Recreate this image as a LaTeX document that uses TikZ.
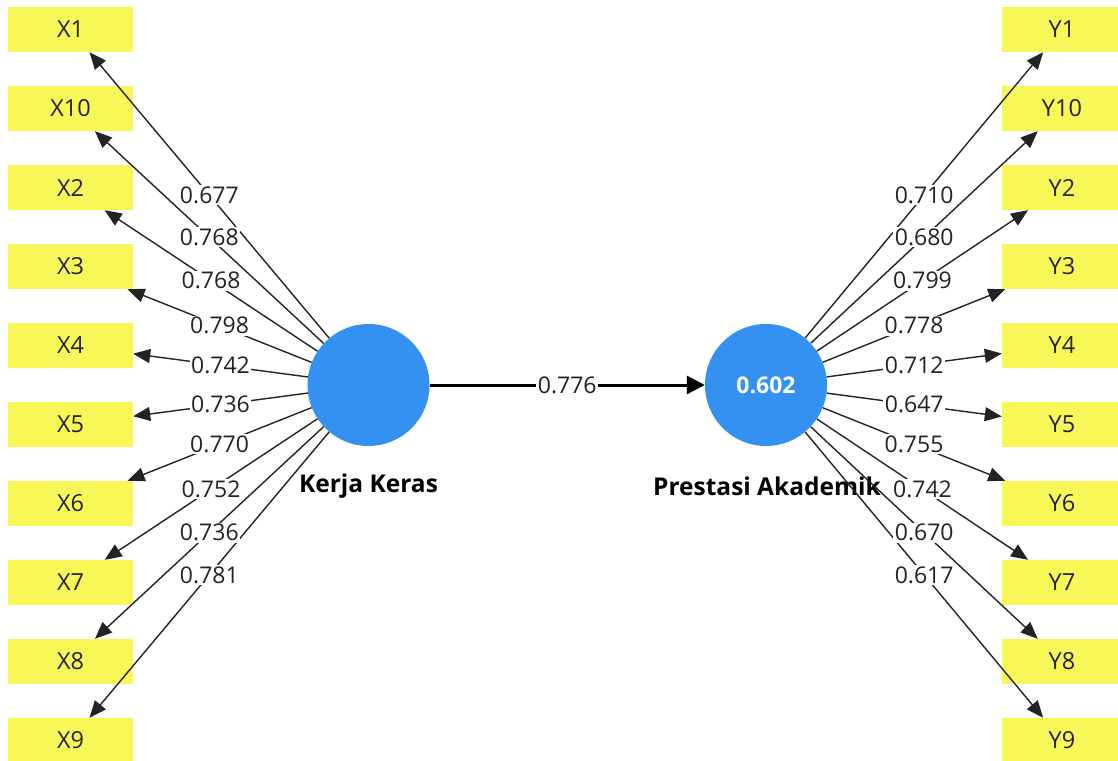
\documentclass[tikz,border=0pt]{standalone}
\usepackage{fontspec}
\setmainfont{Open Sans}
\usetikzlibrary{arrows.meta}
\definecolor{lvblue}{RGB}{52,145,242}
\definecolor{mvyellow}{RGB}{249,246,88}
\definecolor{ink}{RGB}{35,35,35}
\tikzset{
  indicator/.style={fill=mvyellow, minimum height=45pt, inner sep=0pt, text=ink, font=\fontsize{23.5}{25}\selectfont},
  latent/.style={circle, fill=lvblue, minimum size=122pt, inner sep=0pt},
  lvname/.style={font=\fontsize{24.5}{26}\selectfont\bfseries, text=black},
  loading/.style={draw=ink, line width=1.4pt, -{Triangle[length=17pt,width=14pt]}},
  inner path/.style={draw=black, line width=3pt, -{Triangle[length=18pt,width=18pt]}},
  coef/.style={fill=white, inner sep=1.5pt, text=ink, font=\fontsize{23}{25}\selectfont}
}
\def\xload{x1/0.677, x10/0.768, x2/0.768, x3/0.798, x4/0.742, x5/0.736, x6/0.770, x7/0.752, x8/0.736, x9/0.781}
\def\yload{y1/0.710, y10/0.680, y2/0.799, y3/0.778, y4/0.712, y5/0.647, y6/0.755, y7/0.742, y8/0.670, y9/0.617}
\begin{document}
\begin{tikzpicture}[x=1pt,y=-1pt]
\useasboundingbox (0,0) rectangle (1118,760);

\node[latent] (kk) at (368.5,385) {};
\node[latent, text=white, font=\fontsize{23}{25}\selectfont\bfseries] (pa) at (766,385) {0.602};
\node[lvname] (kklabel) at (368.5,486) {Kerja Keras};
\node[lvname] (palabel) at (767,486) {Prestasi Akademik};

\foreach \n/\t [count=\k from 0] in {x1/X1, x10/X10, x2/X2, x3/X3, x4/X4, x5/X5, x6/X6, x7/X7, x8/X8, x9/X9}
\node[indicator, minimum width=125pt] (\n) at (70.5,29.5+79*\k) {\t};
\foreach \n/\t [count=\k from 0] in {y1/Y1, y10/Y10, y2/Y2, y3/Y3, y4/Y4, y5/Y5, y6/Y6, y7/Y7, y8/Y8, y9/Y9}
\node[indicator, minimum width=120pt] (\n) at (1062,29.5+79*\k) {\t};

\foreach \n/\v in \xload
\draw[loading] (kk) -- coordinate[midway] (m\n) (\n);
\foreach \n/\v in \yload
\draw[loading] (pa) -- coordinate[midway] (m\n) (\n);
\draw[inner path] (kk) -- node[coef] (beta) {0.776} (pa);

\foreach \n/\v in \xload
\node[coef] (c\n) at (m\n) {\v};
\foreach \n/\v in \yload
\node[coef] (c\n) at (m\n) {\v};

\end{tikzpicture}
\end{document}
